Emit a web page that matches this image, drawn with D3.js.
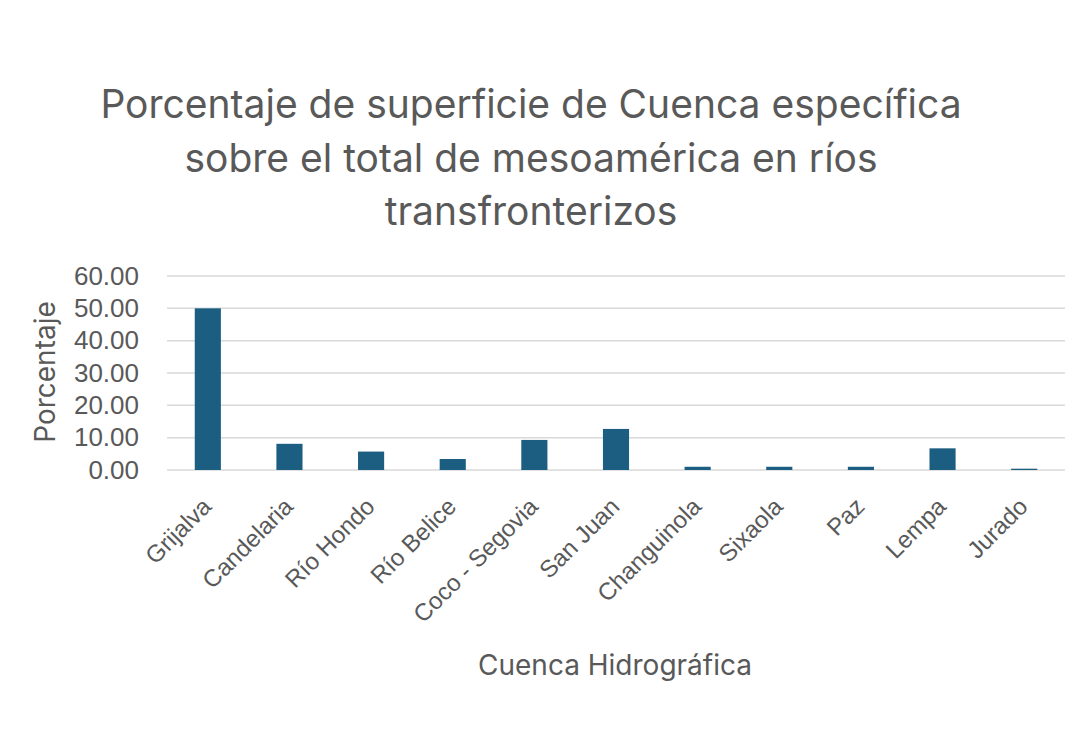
<!DOCTYPE html>
<html>
<head>
<meta charset="utf-8">
<script src="https://cdn.jsdelivr.net/npm/d3@7"></script>
<style>
  html, body { margin: 0; padding: 0; background: #ffffff; }
  svg { display: block; }
</style>
</head>
<body>
<svg id="chart" width="1080" height="750"></svg>
<script>
const categories = ["Grijalva", "Candelaria", "Río Hondo", "Río Belice", "Coco - Segovia", "San Juan", "Changuinola", "Sixaola", "Paz", "Lempa", "Jurado"];
const values = [50.0, 8.1, 5.7, 3.4, 9.3, 12.7, 1.0, 1.0, 1.0, 6.7, 0.4];
const yTicks = [0, 10, 20, 30, 40, 50, 60];
const titleLines = ["Porcentaje de superficie de Cuenca específica", "sobre el total de mesoamérica en ríos", "transfronterizos"];
const xTitle = "Cuenca Hidrográfica";
const yTitle = "Porcentaje";

const svg = d3.select("#chart");
const textColor = "#595959";
const titleFont = "Inter, 'Open Sans', sans-serif";
const labelFont = "'Liberation Sans', Arial, sans-serif";

const plot = { left: 167, right: 1065, top: 276, bottom: 470 };

const x = d3.scaleBand().domain(categories).range([plot.left, plot.right])
  .paddingInner(0.68).paddingOuter(0.34);
const y = d3.scaleLinear().domain([0, 60]).range([plot.bottom, plot.top]);

// gridlines
svg.append("g").selectAll("line").data(yTicks).join("line")
  .attr("x1", plot.left).attr("x2", plot.right)
  .attr("y1", d => y(d)).attr("y2", d => y(d))
  .attr("stroke", "#d9d9d9").attr("stroke-width", 1.5);

// bars
svg.append("g").selectAll("rect").data(categories).join("rect")
  .attr("x", d => x(d))
  .attr("width", x.bandwidth())
  .attr("y", (d, i) => y(values[i]))
  .attr("height", (d, i) => y(0) - y(values[i]))
  .attr("fill", "#1b5e82");

// y axis
const yAxis = d3.axisLeft(y).tickValues(yTicks).tickFormat(d3.format(".2f")).tickSize(0).tickPadding(0);
const gy = svg.append("g").attr("transform", "translate(139,0)").call(yAxis);
gy.select(".domain").remove();
gy.selectAll("text").attr("fill", textColor).style("font-family", labelFont).style("font-size", "26px");

// x axis
const xAxis = d3.axisBottom(x).tickSize(0).tickPadding(0);
const gx = svg.append("g").attr("transform", `translate(0,${plot.bottom})`).call(xAxis);
gx.select(".domain").remove();
gx.selectAll("text")
  .attr("fill", textColor)
  .style("font-family", labelFont).style("font-size", "24px")
  .attr("text-anchor", "end")
  .attr("dy", null).attr("y", 0)
  .attr("transform", "translate(5,38) rotate(-45)");

// title
svg.append("text")
  .attr("x", 531).attr("y", 118)
  .attr("text-anchor", "middle")
  .attr("fill", textColor)
  .style("font-family", titleFont).style("font-size", "39px")
  .selectAll("tspan").data(titleLines).join("tspan")
  .attr("x", 531).attr("dy", (d, i) => i === 0 ? 0 : 53.5)
  .text(d => d);

// x title
svg.append("text")
  .attr("x", 615).attr("y", 675)
  .attr("text-anchor", "middle")
  .attr("fill", textColor)
  .style("font-family", titleFont).style("font-size", "28px")
  .text(xTitle);

// y title
svg.append("text")
  .attr("transform", "translate(55,372) rotate(-90)")
  .attr("text-anchor", "middle")
  .attr("fill", textColor)
  .style("font-family", titleFont).style("font-size", "28px")
  .text(yTitle);
</script>
</body>
</html>
